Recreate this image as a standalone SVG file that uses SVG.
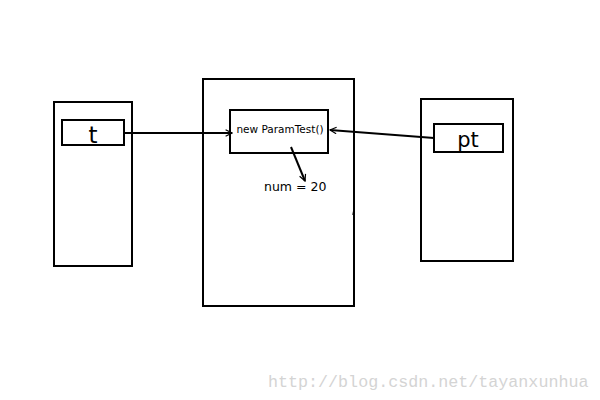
<svg xmlns="http://www.w3.org/2000/svg" width="600" height="400" viewBox="0 0 600 400">
<defs>
<style>
.box{fill:none;stroke:#000;stroke-width:2}
.ln{fill:none;stroke:#000;stroke-width:2}
.txt{font-family:"DejaVu Sans",sans-serif;fill:#000}
</style>
<marker id="ah" viewBox="0 0 10 10" refX="9" refY="5" markerWidth="8" markerHeight="8" orient="auto" markerUnits="userSpaceOnUse">
<path d="M1,1 L9,5 L1,9" fill="none" stroke="#000" stroke-width="1.5"/>
</marker>
</defs>
<rect width="600" height="400" fill="#fff"/>
<g id="stack-left">
<rect class="box" x="54" y="102" width="78" height="164"/>
</g>
<g id="t">
<rect class="box" x="62" y="120" width="62" height="25"/>
<text class="txt" x="93" y="143" font-size="23" text-anchor="middle">t</text>
</g>
<g id="heap">
<rect class="box" x="203" y="79" width="151" height="227"/>
<line x1="354" y1="210" x2="353" y2="215" stroke="#000" stroke-width="1.5"/>
</g>
<g id="obj">
<rect class="box" x="230" y="110" width="98" height="43"/>
<text class="txt" x="280" y="133" font-size="10.5" text-anchor="middle" fill="#222">new ParamTest()</text>
</g>
<g id="num">
<text class="txt" x="264" y="191" font-size="12.5">num = 20</text>
</g>
<g id="stack-right">
<rect class="box" x="421" y="99" width="92" height="162"/>
</g>
<g id="pt">
<rect class="box" x="434" y="124" width="69" height="28"/>
<text class="txt" x="468" y="147" font-size="21" text-anchor="middle">pt</text>
</g>
<g id="connectors">
<line class="ln" x1="124" y1="133" x2="232" y2="133" marker-end="url(#ah)"/>
<line class="ln" x1="434" y1="138" x2="330" y2="130" marker-end="url(#ah)"/>
<line class="ln" x1="291" y1="147" x2="305" y2="181" marker-end="url(#ah)"/>
</g>
<text x="268" y="387" font-family="Liberation Mono, monospace" font-size="16.7" fill="#d4d4d4">http://blog.csdn.net/tayanxunhua</text>
</svg>
